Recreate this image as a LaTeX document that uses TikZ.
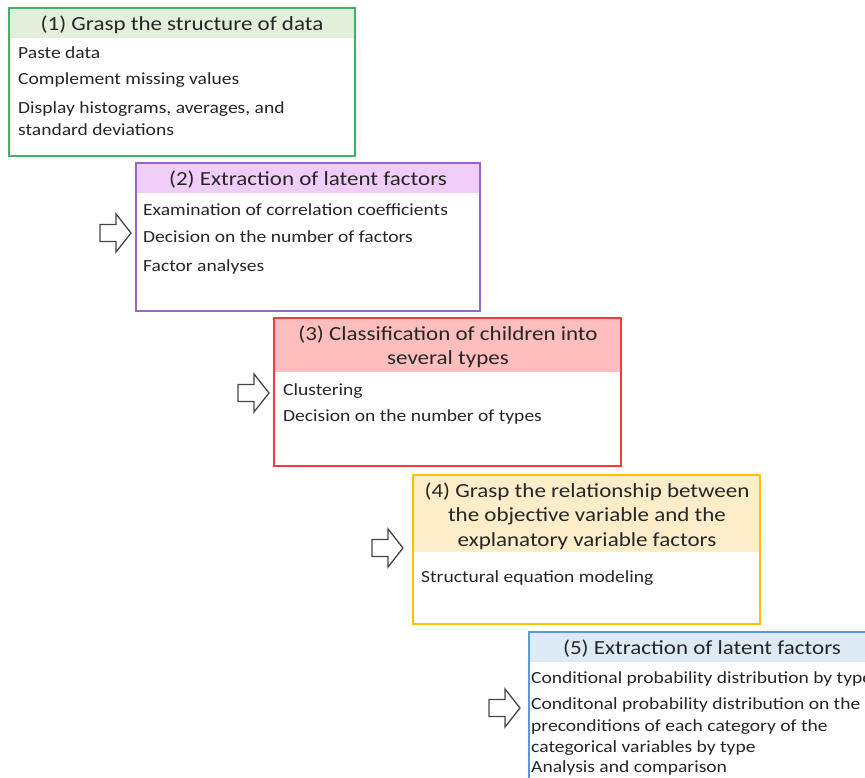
\documentclass[tikz,border=0pt]{standalone}
\usepackage{fontspec}
\setmainfont{Carlito}[FakeStretch=1.15]
\definecolor{textgray}{RGB}{38,38,38}
\definecolor{arrowgray}{RGB}{70,70,70}
\definecolor{borderA}{RGB}{64,179,99}
\definecolor{fillA}{RGB}{226,239,218}
\definecolor{borderB}{RGB}{155,100,200}
\definecolor{fillB}{RGB}{241,206,250}
\definecolor{borderC}{RGB}{240,60,60}
\definecolor{fillC}{RGB}{255,190,190}
\definecolor{borderD}{RGB}{255,192,0}
\definecolor{fillD}{RGB}{253,237,200}
\definecolor{borderE}{RGB}{91,155,213}
\definecolor{fillE}{RGB}{221,235,247}
\begin{document}
\begin{tikzpicture}[x=1pt,y=-1pt,
  txt/.style={inner sep=0pt, anchor=base west, text=textgray, font=\fontsize{17}{21}\selectfont},
  head/.style={inner sep=0pt, text=textgray, font=\fontsize{20}{24.5}\selectfont, align=center},
  frame/.style={line width=2pt},
  arrowline/.style={draw=arrowgray, line width=1.3pt, fill=white, line join=miter},
  blockarrow/.pic={\draw[arrowline] (0,-8.5) -- (16,-8.5) -- (16,-19) -- (31,0) -- (16,19) -- (16,8.5) -- (0,8.5) -- cycle;}
]
\useasboundingbox (0,0) rectangle (865,778);
\begin{scope}
\clip (0,0) rectangle (865,778);
% box 1
\fill[fillA] (9,8) rectangle (355,38);
\draw[frame, borderA] (9,8) rectangle (355,156);
\node[head] (h1) at (182,25) {(1) Grasp the structure of data};
\node[txt] (t11) at (18,59) {Paste data};
\node[txt] (t12) at (18,85) {Complement missing values};
\node[txt] (t13) at (18,114) {Display histograms, averages, and};
\node[txt] (t14) at (18,136) {standard deviations};
% box 2
\fill[fillB] (136,163) rectangle (480,193);
\draw[frame, borderB] (136,163) rectangle (480,311);
\node[head] (h2) at (308,180) {(2) Extraction of latent factors};
\node[txt] (t21) at (143,216) {Examination of correlation coefficients};
\node[txt] (t22) at (143,243) {Decision on the number of factors};
\node[txt] (t23) at (143,272) {Factor analyses};
\pic at (100,233) {blockarrow};
% box 3
\fill[fillC] (274,318) rectangle (621,372);
\draw[frame, borderC] (274,318) rectangle (621,466);
\node[head] (h3) at (448,347) {(3) Classification of children into\\several types};
\node[txt] (t31) at (283,395) {Clustering};
\node[txt] (t32) at (283,421) {Decision on the number of types};
\pic at (238,393) {blockarrow};
% box 4
\fill[fillD] (413,475) rectangle (760,552);
\draw[frame, borderD] (413,475) rectangle (760,624);
\node[head] (h4) at (587,516) {(4) Grasp the relationship between\\the objective variable and the\\explanatory variable factors};
\node[txt] (t41) at (421,582) {Structural equation modeling};
\pic at (372,548) {blockarrow};
% box 5
\fill[fillE] (529,632) rectangle (875,662);
\draw[frame, borderE] (529,632) rectangle (875,800);
\node[head] (h5) at (702,649) {(5) Extraction of latent factors};
\node[txt] (t51) at (531,683) {Conditional probability distribution by type};
\node[txt] (t52) at (531,709) {Conditonal probability distribution on the};
\node[txt] (t53) at (531,731) {preconditions of each category of the};
\node[txt] (t54) at (531,752) {categorical variables by type};
\node[txt] (t55) at (531,772) {Analysis and comparison};
\pic at (489,708) {blockarrow};
\end{scope}
\end{tikzpicture}
\end{document}
